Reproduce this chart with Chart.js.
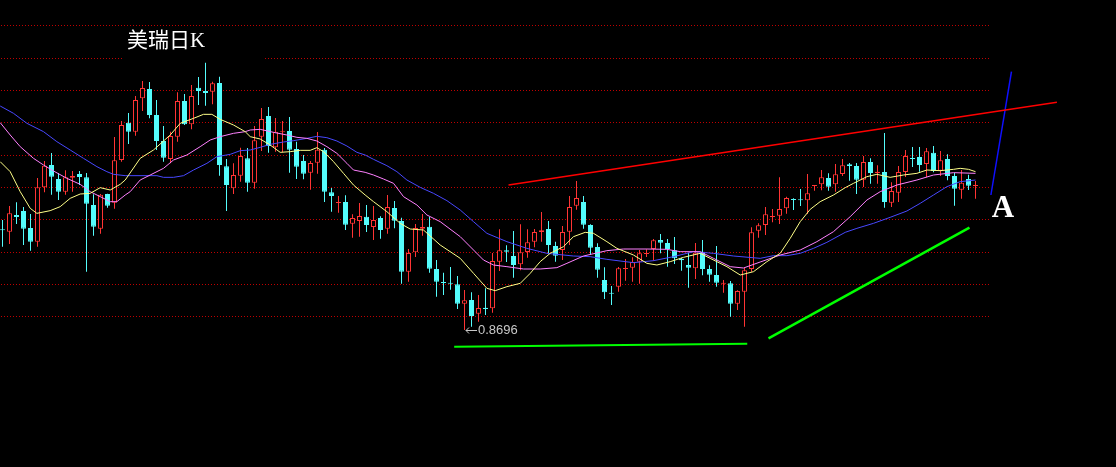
<!DOCTYPE html>
<html>
<head>
<meta charset="utf-8">
<script src="https://cdn.jsdelivr.net/npm/chart.js@4.4.1/dist/chart.umd.min.js"></script>
<style>
  html, body { margin: 0; padding: 0; background: #000; overflow: hidden; }
  #wrap { width: 1116px; height: 467px; }
</style>
</head>
<body>
<div id="wrap"><canvas id="kChart" width="1116" height="467"></canvas></div>
<script>
// daily K data, one entry per trading day (index 0..139)
const opens = [
  .8997,.8991,.9041,.9053,.9002,.8961,.9124,.9191,.9149,.9111,
  .9153,.9164,.9154,.9071,.9000,.9104,.9078,.9206,.9318,.9291,
  .9391,.9419,.9341,.9263,.9209,.9276,.9383,.9313,.9423,.9413,
  .9411,.9437,.9187,.9121,.9159,.9211,.9138,.9276,.9338,.9244,
  .9289,.9293,.9239,.9203,.9168,.9198,.9237,.9109,.9077,.9080,
  .9015,.9023,.9036,.9005,.9032,.9000,.9062,.9023,.8871,.8929,
  .9000,.9006,.8879,.8840,.8838,.8833,.8775,.8786,.8745,.8763,
  .8761,.8901,.8935,.8918,.8893,.8930,.8961,.8990,.8999,.8948,
  .8936,.8991,.9069,.9080,.9011,.8945,.8846,.8808,.8826,.8879,
  .8883,.8901,.8924,.8939,.8966,.8957,.8935,.8910,.8891,.8881,
  .8931,.8879,.8861,.8835,.8836,.8775,.8811,.8879,.8994,.9011,
  .9035,.9039,.9061,.9089,.9088,.9085,.9128,.9133,.9152,.9133,
  .9164,.9193,.9188,.9147,.9200,.9167,.9170,.9078,.9108,.9170,
  .9212,.9215,.9194,.9228,.9174,.9209,.9158,.9117,.9149,.9128
];
const highs = [
  .9026,.9068,.9079,.9065,.9044,.9152,.9203,.9227,.9167,.9175,
  .9173,.9173,.9167,.9103,.9104,.9105,.9275,.9323,.9347,.9398,
  .9443,.9440,.9386,.9308,.9291,.9409,.9404,.9431,.9455,.9498,
  .9441,.9456,.9209,.9196,.9243,.9242,.9308,.9362,.9365,.9332,
  .9323,.9335,.9261,.9221,.9203,.9290,.9242,.9122,.9098,.9100,
  .9043,.9077,.9071,.9068,.9037,.9101,.9083,.9033,.8939,.9014,
  .9044,.9035,.8906,.8868,.8885,.8858,.8816,.8809,.8801,.8821,
  .8927,.8998,.8950,.8993,.9013,.8998,.8999,.9050,.9023,.8961,
  .9008,.9098,.9143,.9098,.9013,.8956,.8884,.8828,.8885,.8909,
  .8914,.8936,.8938,.8969,.8984,.8969,.8975,.8913,.8927,.8957,
  .8966,.8890,.8948,.8846,.8843,.8815,.8883,.9004,.9016,.9065,
  .9059,.9154,.9096,.9091,.9119,.9164,.9131,.9176,.9166,.9194,
  .9209,.9197,.9197,.9218,.9211,.9190,.9287,.9139,.9188,.9236,
  .9245,.9245,.9242,.9248,.9233,.9223,.9167,.9176,.9162,.9143
];
const lows = [
  .8946,.8954,.9014,.8951,.8934,.8946,.9109,.9102,.9086,.9102,
  .9111,.9131,.8871,.8979,.8985,.9063,.9060,.9201,.9254,.9279,
  .9353,.9331,.9236,.9201,.9196,.9261,.9311,.9298,.9371,.9369,
  .9373,.9159,.9053,.9104,.9141,.9111,.9120,.9233,.9228,.9231,
  .9229,.9168,.9149,.9148,.9117,.9165,.9080,.9051,.9048,.8996,
  .8973,.8976,.8990,.8966,.8970,.8985,.9001,.8835,.8841,.8915,
  .8979,.8868,.8796,.8801,.8817,.8759,.8696,.8706,.8721,.8741,
  .8748,.8873,.8900,.8853,.8875,.8913,.8944,.8961,.8923,.8901,
  .8906,.8951,.9057,.9000,.8921,.8853,.8789,.8771,.8811,.8844,
  .8841,.8835,.8915,.8904,.8926,.8886,.8894,.8874,.8823,.8849,
  .8860,.8841,.8826,.8808,.8736,.8756,.8706,.8871,.8973,.8981,
  .9019,.9014,.9045,.9056,.9068,.9044,.9114,.9115,.9114,.9111,
  .9158,.9144,.9104,.9125,.9135,.9135,.9063,.9065,.9080,.9155,
  .9185,.9171,.9154,.9169,.9158,.9145,.9069,.9090,.9116,.9090
];
const closes = [
  .8995,.9046,.9035,.9000,.8961,.9124,.9189,.9156,.9111,.9154,
  .9158,.9155,.9075,.9006,.9102,.9069,.9205,.9311,.9291,.9386,
  .9422,.9341,.9263,.9213,.9278,.9383,.9313,.9398,.9413,.9407,
  .9436,.9191,.9131,.9161,.9218,.9138,.9265,.9329,.9248,.9291,
  .9292,.9237,.9186,.9165,.9197,.9237,.9111,.9098,.9080,.9012,
  .9032,.9038,.9011,.9026,.8996,.9065,.9024,.8871,.8927,.9002,
  .9005,.8880,.8841,.8837,.8835,.8775,.8785,.8738,.8762,.8759,
  .8903,.8935,.8931,.8891,.8929,.8959,.8990,.8995,.8951,.8919,
  .8990,.9065,.9092,.9012,.8943,.8877,.8809,.8805,.8881,.8882,
  .8900,.8926,.8927,.8965,.8958,.8939,.8911,.8905,.8883,.8928,
  .8879,.8862,.8838,.8838,.8775,.8813,.8875,.8989,.9010,.9043,
  .9038,.9059,.9092,.9086,.9085,.9106,.9131,.9154,.9126,.9163,
  .9190,.9188,.9147,.9200,.9167,.9171,.9080,.9113,.9170,.9218,
  .9209,.9191,.9232,.9173,.9205,.9158,.9120,.9138,.9129,.9131
];

// moving averages (day index, price)
const ma5Idx = [-0.33,1.1,2.53,3.96,4.91,6.81,8.24,9.67,11.1,12.53,13.96,15.39,16.81,17.53,19.67,21.57,23.96,25.39,27.29,28.71,29.91,31.1,33,34.67,35.39,36.81,38.24,39.67,41.1,42.53,43.96,44.91,45.86,47.29,48.71,50.14,51.81,53,54.91,56.81,58.24,60.14,62.53,65.39,67.29,69.2,70.39,72.06,73.96,75.39,76.81,78.24,80.14,81.57,83.24,84.43,86.34,87.77,90.14,92.06,93.49,95.39,97.29,99.67,101.1,103.49,105.39,107.29,109.2,111.1,112.53,113.96,115.39,116.81,118.71,120.39,121.57,123.49,124.91,126.81,128.71,130.63,132.06,133.96,135.86,136.81,138,139];
const ma5Val = [.9201,.9171,.9111,.9061,.9046,.9054,.9066,.9091,.9104,.9106,.9123,.9116,.9133,.9146,.9211,.9236,.9281,.9316,.9331,.9343,.9343,.9328,.9311,.9291,.9276,.9269,.9251,.9229,.9231,.9235,.9235,.9243,.9231,.9201,.9166,.9131,.9101,.9081,.9051,.9016,.8999,.8996,.8951,.8911,.8866,.8821,.8814,.8826,.8836,.8866,.8901,.8926,.8946,.8976,.8989,.8986,.8961,.8941,.8921,.8896,.8891,.8901,.8914,.8926,.8911,.8886,.8861,.8871,.8901,.8926,.8971,.9021,.9058,.9081,.9101,.9123,.9136,.9156,.9163,.9154,.9161,.9166,.9176,.9174,.9178,.9181,.9178,.9171];

const ma10Idx = [-0.33,1.1,2.53,4.43,5.86,7.29,9.2,11.1,12.53,13.96,15.39,16.34,17.53,18.24,19.67,21.1,23,24.43,26.34,28.24,29.67,31.1,33,34.67,35.39,36.81,38.71,40.63,42.06,43.49,44.91,46.34,47.77,49.2,50.14,51.81,53,54.43,55.86,57.29,59.2,60.63,62.53,65.39,67.29,68.71,70.14,72.06,74.43,76.81,79.2,80.63,83,86.34,88.71,92.06,94.91,96.81,99.67,101.57,103.96,105.86,108.24,111.1,113.96,116.34,118.71,121.1,123.49,125.39,127.77,130.63,133,135.86,139];
const ma10Val = [.9318,.9281,.9246,.9211,.9191,.9173,.9151,.9133,.9111,.9096,.9081,.9081,.9101,.9111,.9146,.9161,.9181,.9206,.9221,.9246,.9266,.9276,.9286,.9291,.9296,.9298,.9289,.9281,.9274,.9271,.9263,.9246,.9226,.9196,.9176,.9169,.9161,.9149,.9136,.9096,.9071,.9041,.9021,.8976,.8936,.8906,.8891,.8886,.8879,.8879,.8883,.8896,.8918,.8934,.8939,.8939,.8938,.8931,.8931,.8911,.8886,.8882,.8900,.8921,.8936,.8961,.8991,.9036,.9086,.9111,.9131,.9146,.9161,.9168,.9166];

const ma20Idx = [-0.33,1.57,3.49,5.86,7.77,9.67,11.57,13.49,14.91,15.86,17.53,22.06,23,24.43,25.86,27.29,29.2,30.63,32.53,33.96,35.39,36.81,38.24,40.14,41.57,43.49,44.91,46.34,47.77,49.2,50.63,51.81,53,54.91,56.34,57.77,59.67,61.57,63.49,65.39,67.29,69.2,72.06,74.91,77.77,81.57,83.96,86.34,90.14,93,95.86,98.71,101.57,104.43,108.24,110.14,112.06,113.96,115.86,117.77,120.39,122.06,124.43,126.81,129.2,131.1,133,134.91,136.81,139];
const ma20Val = [.9368,.9346,.9316,.9291,.9261,.9236,.9211,.9186,.9171,.9163,.9159,.9159,.9154,.9154,.9159,.9176,.9196,.9216,.9223,.9234,.9236,.9244,.9253,.9260,.9264,.9271,.9277,.9273,.9263,.9248,.9229,.9221,.9208,.9189,.9171,.9146,.9124,.9106,.9084,.9056,.9021,.8986,.8961,.8941,.8926,.8918,.8916,.8908,.8898,.8904,.8916,.8931,.8926,.8918,.8911,.8919,.8919,.8926,.8941,.8959,.8989,.9001,.9016,.9034,.9053,.9076,.9101,.9126,.9141,.9146];

// hand-drawn lines: [startIdx, startPrice, endIdx, endPrice]
const redTrend   = [72.29, .9131, 150.63, .9379];
const blueTrend  = [141.2, .9101, 144.14, .9471];
const greenBase  = [64.53, .8646, 106.39, .8655];
const greenRise  = [109.43, .8671, 138.14, .9003];

// horizontal dotted levels
const gridLevels = [.9610, .9513, .9416, .9319, .9222, .9125, .9028, .8931, .8834, .8737];

const lowIdx = 66;            // day of the marked low
const lowLabel = '0.8696';
const titleText = '美瑞日K';

const RED = '#ff3434', CYAN = '#54fcfc';

const up = closes.map((c, i) => c >= opens[i]);
const bodies = opens.map((o, i) => ({ x: i, y: [o, closes[i]] }));
const wicks = lows.map((l, i) => ({ x: i, y: [l, highs[i]] }));
const pts = (xs, ys) => xs.map((x, i) => ({ x, y: ys[i] }));
const seg = a => [{ x: a[0], y: a[1] }, { x: a[2], y: a[3] }];

const lineDs = (data, color, width, order) => ({
  type: 'line', data, borderColor: color, borderWidth: width,
  pointRadius: 0, tension: 0, fill: false, order
});

const decor = {
  id: 'decor',
  beforeDraw(chart) {
    const { ctx, width, height } = chart;
    ctx.save();
    ctx.fillStyle = '#000';
    ctx.fillRect(0, 0, width, height);
    ctx.restore();
  },
  beforeDatasetsDraw(chart) {
    const { ctx, scales: { x, y } } = chart;
    const xEnd = Math.round(x.getPixelForValue(141.1));
    ctx.save();
    ctx.fillStyle = '#c00000';
    // dotted levels: one pixel every third pixel
    gridLevels.forEach(v => {
      const py = Math.round(y.getPixelForValue(v));
      for (let px = 1; px < xEnd; px += 3) ctx.fillRect(px, py, 1, 1);
    });
    // title box hides the grid behind the title
    ctx.fillStyle = '#000';
    ctx.fillRect(124, 30, 141, 30);
    ctx.restore();
  },
  afterDraw(chart) {
    const { ctx, scales: { x, y } } = chart;
    ctx.save();
    ctx.fillStyle = '#fff';
    ctx.textBaseline = 'middle';
    ctx.font = '21px "Liberation Serif", "Noto Sans CJK SC"';
    ctx.fillText(titleText, 127, 41);

    ctx.font = 'bold 31px "Liberation Serif"';
    ctx.textAlign = 'center';
    ctx.textBaseline = 'alphabetic';
    ctx.fillText('A', 1003, 217);

    // low marker
    const px = Math.round(x.getPixelForValue(lowIdx));
    const py = Math.round(y.getPixelForValue(lows[lowIdx])) + 0.5;
    ctx.strokeStyle = '#c8c8c8';
    ctx.lineWidth = 1;
    ctx.beginPath();
    ctx.moveTo(px + 1, py); ctx.lineTo(px + 12, py);
    ctx.moveTo(px + 1, py); ctx.lineTo(px + 4, py - 3);
    ctx.moveTo(px + 1, py); ctx.lineTo(px + 4, py + 3);
    ctx.stroke();
    ctx.fillStyle = '#c8c8c8';
    ctx.textAlign = 'left';
    ctx.textBaseline = 'middle';
    ctx.font = '13px "Liberation Sans"';
    ctx.fillText(lowLabel, px + 13, py);
    ctx.restore();
  }
};

new Chart(document.getElementById('kChart'), {
  type: 'bar',
  data: {
    datasets: [
      lineDs(seg(redTrend), '#ff0000', 1.5, 0),
      lineDs(seg(blueTrend), '#1010ff', 1.5, 0),
      lineDs(seg(greenBase), '#00ff00', 2, 0),
      lineDs(seg(greenRise), '#00ff00', 2.5, 0),
      lineDs(pts(ma5Idx, ma5Val), '#ffff88', 1, 1),
      lineDs(pts(ma10Idx, ma10Val), '#ff80ff', 1, 1),
      lineDs(pts(ma20Idx, ma20Val), '#4848ff', 1, 1),
      {
        type: 'bar', data: bodies, order: 2, grouped: false,
        barThickness: 5, minBarLength: 1, borderWidth: 1, borderSkipped: false, inflateAmount: 0,
        backgroundColor: up.map(u => u ? '#000' : CYAN),
        borderColor: up.map(u => u ? RED : CYAN)
      },
      {
        type: 'bar', data: wicks, order: 3, grouped: false,
        barThickness: 1, minBarLength: 1, borderWidth: 0, inflateAmount: 0,
        backgroundColor: up.map(u => u ? RED : CYAN)
      }
    ]
  },
  options: {
    responsive: false,
    animation: false,
    devicePixelRatio: 1,
    events: [],
    layout: { padding: 0 },
    plugins: { legend: { display: false }, tooltip: { enabled: false } },
    scales: {
      x: { type: 'linear', display: false, offset: false, min: -2.5 / 7, max: 1113.5 / 7 },
      y: { type: 'linear', display: false, min: 0.8285, max: 0.9686 }
    }
  },
  plugins: [decor]
});
</script>
</body>
</html>
